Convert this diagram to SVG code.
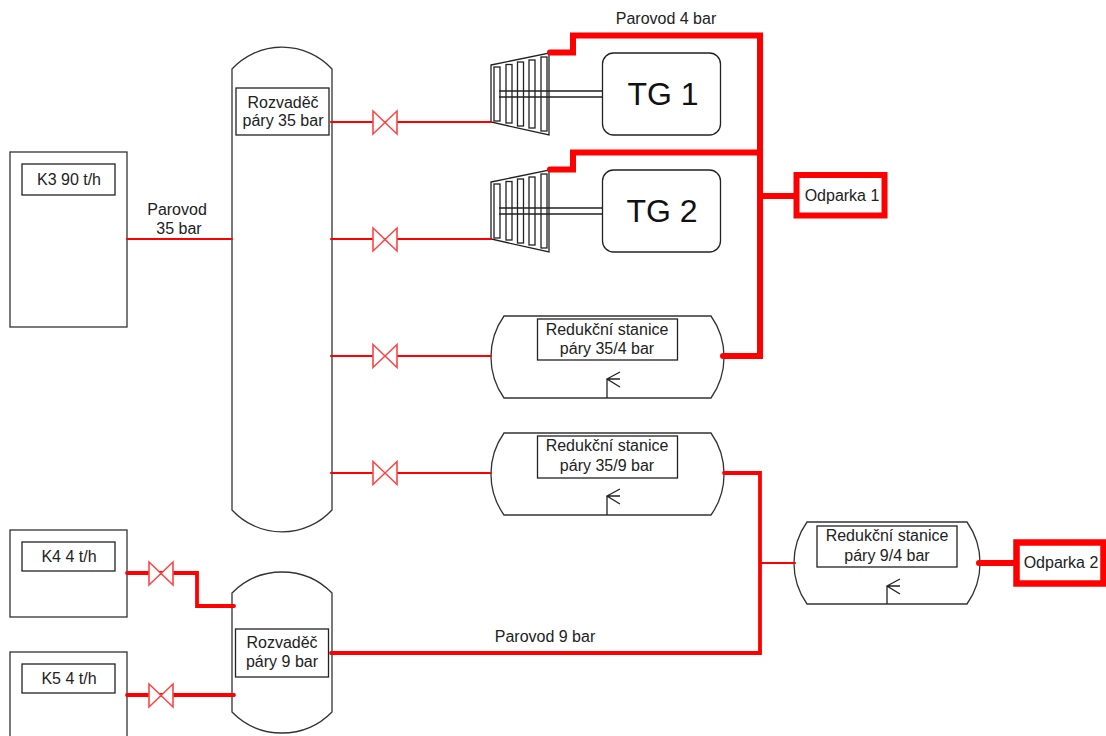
<svg xmlns="http://www.w3.org/2000/svg" width="1106" height="736" viewBox="0 0 1106 736">
<style>
.s{fill:#fff;stroke:#333;stroke-width:1.3}
.n{fill:none;stroke:#222;stroke-width:1.3}
.b{fill:#fff;stroke:#222;stroke-width:1.3}
.p{fill:none;stroke:#f00;stroke-linejoin:miter;stroke-linecap:round}
.t1{stroke-width:2.2}.t2{stroke-width:3.8}.t3{stroke-width:6}
.v{fill:#fff;stroke:#f44;stroke-width:1.6}
text{font-family:"Liberation Sans",Arial,sans-serif;font-size:16px;fill:#222;text-anchor:middle}
.big{font-size:32px;fill:#111}
</style>
<defs>
<g id="valve"><path class="v" d="M-12 -11.500L12 11.500V-11.500L-12 11.500Z"/></g>
<g id="turbine">
<path class="b" d="M491 65L549 53V135L491 122Z"/>
<path class="n" d="M499 91H602M499 97H602"/>
<g class="n">
<rect x="494" y="67" width="6" height="54"/>
<rect x="506" y="64.500" width="6" height="58.500"/>
<rect x="517.500" y="62" width="6" height="64"/>
<rect x="529" y="60" width="6" height="68"/>
<rect x="541" y="57" width="6" height="74"/>
</g>
</g>
<g id="reducer">
<path class="s" d="M504 0H711A71 71 0 0 1 711 82H504A71 71 0 0 1 504 0Z"/>
<path class="n" d="M607 82V63M620 56L607 63L620 71M607 63H620"/>
</g>
</defs>

<g id="k3"><rect class="s" x="10" y="152" width="117" height="175"/><rect class="b" x="22" y="164" width="93" height="31"/><text x="69" y="185">K3 90 t/h</text></g>
<g id="k4"><rect class="s" x="10" y="530" width="117" height="87"/><rect class="b" x="22" y="542" width="93" height="29"/><text x="69" y="562">K4 4 t/h</text></g>
<g id="k5"><rect class="s" x="10" y="652" width="117" height="90"/><rect class="b" x="22" y="664" width="93" height="29"/><text x="69" y="684">K5 4 t/h</text></g>

<g id="rozvadec35"><path class="s" d="M232 69A68 68 0 0 1 332 69V510A68 68 0 0 1 232 510Z"/><rect class="b" x="236" y="88" width="93" height="47"/><text x="283" y="108">Rozvaděč</text><text x="283" y="126">páry 35 bar</text></g>
<g id="rozvadec9"><path class="s" d="M232 593A70 70 0 0 1 332 593V712A70 70 0 0 1 232 712Z"/><rect class="b" x="235.500" y="629" width="93" height="48"/><text x="282" y="648">Rozvaděč</text><text x="282" y="667">páry 9 bar</text></g>

<g id="tg1"><use href="#turbine"/><rect class="b" x="602.500" y="53" width="118" height="82" rx="11"/><text class="big" x="663" y="105">TG 1</text></g>
<g id="tg2"><use href="#turbine" y="117"/><rect class="b" x="602.500" y="170" width="118" height="82" rx="11"/><text class="big" x="662" y="222">TG 2</text></g>

<g id="red354"><use href="#reducer" y="316"/><rect class="b" x="537.500" y="319" width="140" height="41"/><text x="607" y="335">Redukční stanice</text><text x="607" y="354">páry 35/4 bar</text></g>
<g id="red359"><use href="#reducer" y="433"/><rect class="b" x="537.500" y="436" width="140" height="42"/><text x="607" y="451">Redukční stanice</text><text x="607" y="471">páry 35/9 bar</text></g>
<g id="red94">
<path class="s" d="M807 522H967A71 71 0 0 1 967 604H807A71 71 0 0 1 807 522Z"/>
<path class="n" d="M887 604V586M900 579L887 586L900 594M887 586H900"/>
<rect class="b" x="817" y="526" width="140" height="41"/><text x="887" y="541">Redukční stanice</text><text x="887" y="561">páry 9/4 bar</text></g>

<g id="odparka1"><rect x="796.500" y="175" width="88" height="40.500" fill="#fff" stroke="#f00" stroke-width="6"/><text x="842" y="201">Odparka 1</text></g>
<g id="odparka2"><rect x="1016.500" y="542.500" width="87" height="41" fill="#fff" stroke="#f00" stroke-width="6.500"/><text x="1061" y="568">Odparka 2</text></g>

<g id="connectors">
<path class="p t1" d="M127 239H232"/>
<path class="p t1" d="M331 122H491M331 239H491M331 356H491M331 473H491"/>
<path class="p t2" d="M127 573H197V606H234"/>
<path class="p t2" d="M127 695H234"/>
<path class="p t2" d="M724 473H760V653H331"/>
<path class="p t1" d="M760 563H795"/>
<path class="p t3" d="M550 52.500H573V35.500H760V356H723"/>
<path class="p t3" d="M550 169.500H573V152.500H760"/>
<path class="p t3" d="M760 196H796"/>
<path class="p t3" d="M979 563H1016"/>
</g>

<g id="valves">
<use href="#valve" x="385" y="122.500"/><use href="#valve" x="385" y="239.500"/><use href="#valve" x="385" y="356"/><use href="#valve" x="385" y="473"/>
<use href="#valve" x="161" y="573.500"/><use href="#valve" x="161" y="695.500"/>
</g>

<g id="labels">
<text x="666" y="24">Parovod 4 bar</text>
<text x="177" y="215">Parovod</text>
<text x="179" y="234">35 bar</text>
<text x="545" y="642">Parovod 9 bar</text>
</g>
</svg>
